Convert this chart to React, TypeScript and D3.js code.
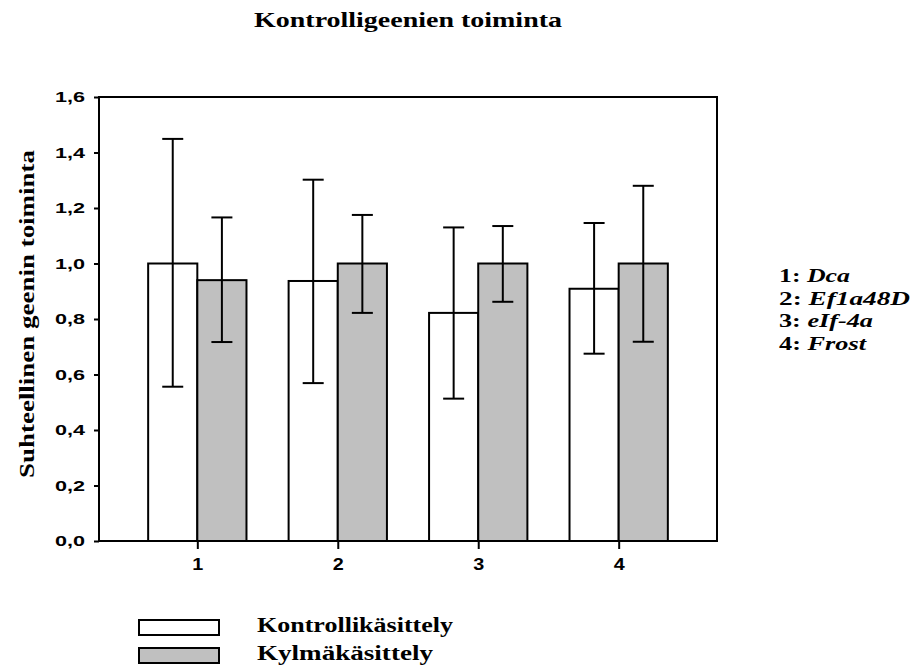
import React, { useEffect, useRef } from "react";
import * as d3 from "d3";

const categories = [1, 2, 3, 4];
const geneNames = ["Dca", "Ef1a48D", "eIf-4a", "Frost"];
const controlValues = [1.0, 0.937, 0.822, 0.909];
const controlHigh = [1.449, 1.302, 1.13, 1.146];
const controlLow = [0.556, 0.569, 0.513, 0.675];
const coldValues = [0.94, 1.0, 1.0, 1.0];
const coldHigh = [1.166, 1.175, 1.135, 1.28];
const coldLow = [0.717, 0.822, 0.862, 0.718];
const yTicks = [0, 0.2, 0.4, 0.6, 0.8, 1.0, 1.2, 1.4, 1.6];
const seriesNames = ["Kontrollikäsittely", "Kylmäkäsittely"];

const svgWidth = 914;
const svgHeight = 670;
const serif = "'Liberation Serif', 'Times New Roman', serif";
const sans = "'Liberation Sans', Arial, sans-serif";

function App() {
  const svgRef = useRef<SVGSVGElement>(null);

  useEffect(() => {
    const svg = d3.select(svgRef.current);
    svg.selectAll("*").remove();

    const left = 99, right = 717, top = 97, bottom = 541;
    const x = d3.scaleLinear().domain([0.3, 4.7]).range([left, right]);
    const y = d3.scaleLinear().domain([0, 1.6]).range([bottom, top]);
    const barW = 0.35; // in category units
    const capW = 21;

    // title
    svg
      .append("text")
      .attr("x", 254)
      .attr("y", 27)
      .attr("textLength", 308)
      .attr("lengthAdjust", "spacingAndGlyphs")
      .style("font-family", serif)
      .style("font-weight", "bold")
      .style("font-size", "21px")
      .text("Kontrolligeenien toiminta");

    const g = svg.append("g");

    const series = [
      { vals: controlValues, hi: controlHigh, lo: controlLow, fill: "#ffffff", off: -barW },
      { vals: coldValues, hi: coldHigh, lo: coldLow, fill: "#c0c0c0", off: 0 },
    ];

    series.forEach((s) => {
      g.selectAll(null)
        .data(categories)
        .enter()
        .append("rect")
        .attr("x", (d) => x(d + s.off))
        .attr("y", (d, i) => y(s.vals[i]))
        .attr("width", x(barW) - x(0))
        .attr("height", (d, i) => y(0) - y(s.vals[i]))
        .attr("fill", s.fill)
        .attr("stroke", "#000")
        .attr("stroke-width", 2);
    });

    // error bars
    series.forEach((s) => {
      const cx = (d: number) => x(d + s.off + barW / 2);
      const eb = g.selectAll(null).data(categories).enter().append("g");
      eb.append("line")
        .attr("x1", cx).attr("x2", cx)
        .attr("y1", (d, i) => y(s.hi[i]))
        .attr("y2", (d, i) => y(s.lo[i]))
        .attr("stroke", "#000").attr("stroke-width", 2);
      eb.append("line")
        .attr("x1", (d) => cx(d) - capW / 2).attr("x2", (d) => cx(d) + capW / 2)
        .attr("y1", (d, i) => y(s.hi[i])).attr("y2", (d, i) => y(s.hi[i]))
        .attr("stroke", "#000").attr("stroke-width", 2);
      eb.append("line")
        .attr("x1", (d) => cx(d) - capW / 2).attr("x2", (d) => cx(d) + capW / 2)
        .attr("y1", (d, i) => y(s.lo[i])).attr("y2", (d, i) => y(s.lo[i]))
        .attr("stroke", "#000").attr("stroke-width", 2);
    });

    // frame
    g.append("rect")
      .attr("x", left)
      .attr("y", top)
      .attr("width", right - left)
      .attr("height", bottom - top)
      .attr("fill", "none")
      .attr("stroke", "#000")
      .attr("stroke-width", 2);

    // y axis
    const yAxis = g
      .append("g")
      .attr("transform", `translate(${left},0)`)
      .call(
        d3.axisLeft(y).tickValues(yTicks).tickSize(5).tickPadding(9)
          .tickFormat((d) => d3.format(".1f")(d as number).replace(".", ","))
      );
    yAxis.attr("font-size", 15).attr("font-family", sans).attr("font-weight", "bold");
    yAxis.select(".domain").remove();
    yAxis.selectAll("line").attr("stroke-width", 2);
    yAxis.selectAll("text")
      .attr("textLength", 30)
      .attr("lengthAdjust", "spacingAndGlyphs")
      .attr("fill", "#000");

    // x axis
    const xAxis = g
      .append("g")
      .attr("transform", `translate(0,${bottom})`)
      .call(d3.axisBottom(x).tickValues(categories).tickSize(8).tickPadding(10).tickFormat(d3.format("d")));
    xAxis.attr("font-size", 16).attr("font-family", sans).attr("font-weight", "bold");
    xAxis.select(".domain").remove();
    xAxis.selectAll("line").attr("stroke-width", 2);
    xAxis.selectAll("text")
      .attr("textLength", 11)
      .attr("lengthAdjust", "spacingAndGlyphs")
      .attr("fill", "#000");

    // y axis title
    svg
      .append("text")
      .attr("transform", `translate(34,314) rotate(-90)`)
      .attr("text-anchor", "middle")
      .attr("textLength", 328)
      .attr("lengthAdjust", "spacingAndGlyphs")
      .style("font-family", serif)
      .style("font-weight", "bold")
      .style("font-size", "21px")
      .text("Suhteellinen geenin toiminta");

    // gene key on the right
    const keyWidths = [71, 131, 94, 87];
    categories.forEach((c, i) => {
      const t = svg
        .append("text")
        .attr("x", 779)
        .attr("y", 282 + i * 22.7)
        .attr("textLength", keyWidths[i])
        .attr("lengthAdjust", "spacingAndGlyphs")
        .style("font-family", serif)
        .style("font-weight", "bold")
        .style("font-size", "19px");
      t.append("tspan").text(`${c}: `);
      t.append("tspan").style("font-style", "italic").text(geneNames[i]);
    });

    // legend
    const legendFills = ["#ffffff", "#c0c0c0"];
    const legendY = [620, 648];
    const legendTextW = [196, 176];
    seriesNames.forEach((name, i) => {
      svg
        .append("rect")
        .attr("x", 139)
        .attr("y", legendY[i])
        .attr("width", 80)
        .attr("height", 15)
        .attr("fill", legendFills[i])
        .attr("stroke", "#000")
        .attr("stroke-width", 2);
      svg
        .append("text")
        .attr("x", 257)
        .attr("y", legendY[i] + 12)
        .attr("textLength", legendTextW[i])
        .attr("lengthAdjust", "spacingAndGlyphs")
        .style("font-family", serif)
        .style("font-weight", "bold")
        .style("font-size", "21px")
        .text(name);
    });
  }, []);

  return (
    <div style={{ position: "absolute", left: 0, top: 0 }}>
      <svg ref={svgRef} width={svgWidth} height={svgHeight} style={{ display: "block", background: "#fff" }}></svg>
    </div>
  );
}

export default App;
